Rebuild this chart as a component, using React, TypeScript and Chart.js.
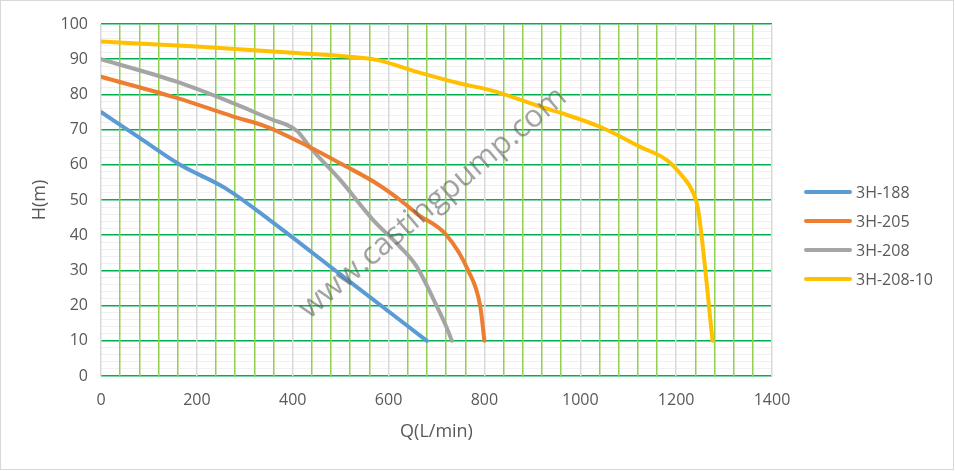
import React, { useEffect, useRef } from "react";
import { Chart, registerables } from "chart.js";

Chart.register(...registerables);

// ---- data ----
const seriesNames = ["3H-188", "3H-205", "3H-208", "3H-208-10"];

const q188 = [0, 80, 165, 260, 350, 500, 680];
const h188 = [75, 67.7, 60, 53.3, 44.5, 28.8, 10];

const q205 = [0, 158, 276, 346, 436, 505, 575, 624, 660, 721, 766, 791, 800];
const h205 = [85, 79, 73.7, 70.8, 65, 60, 54.7, 50, 46, 40, 30, 20, 10];

const q208 = [0, 158, 276, 360, 385, 410, 436, 499, 568, 624, 659, 700, 722, 732];
const h208 = [90, 83.6, 77.5, 72.7, 71.5, 69.5, 65, 55.7, 44.3, 36.7, 31, 20, 13.5, 10];

const q20810 = [0, 200, 415, 500, 575, 659, 749, 812, 929, 958, 1041, 1125, 1180, 1208, 1236, 1246, 1276];
const h20810 = [95, 93.6, 91.7, 90.9, 89.8, 86.4, 83.1, 81.2, 76, 74.8, 70.8, 65.1, 61.4, 57.6, 51.9, 47.2, 10];

const xTickStep = 40;
const xLabelStep = 200;
const yTickStep = 2;
const yLabelStep = 10;
const xTitle = "Q(L/min)";
const yTitle = "H(m)";
const watermark = "www.castingpump.com";

const colors = ["#5B9BD5", "#ED7D31", "#A5A5A5", "#FFC000"];

const toPts = (xs: number[], ys: number[]) => xs.map((x, i) => ({ x, y: ys[i] }));
const seriesData = [toPts(q188, h188), toPts(q205, h205), toPts(q208, h208), toPts(q20810, h20810)];

const FONT = "'Open Sans', 'Liberation Sans', sans-serif";
const TEXT = "#595959";

const extrasPlugin = {
  id: "extras",
  afterDraw(chart: any) {
    const ctx = chart.ctx as CanvasRenderingContext2D;
    const area = chart.chartArea;
    // watermark
    ctx.save();
    ctx.font = `30px ${FONT}`;
    const w = ctx.measureText(watermark).width;
    const size = (30 * 340) / w;
    ctx.font = `${size}px ${FONT}`;
    ctx.translate(433, 203);
    ctx.rotate((-40.3 * Math.PI) / 180);
    ctx.fillStyle = "rgba(90,90,90,0.55)";
    ctx.textAlign = "center";
    ctx.textBaseline = "middle";
    ctx.fillText(watermark, 0, 0);
    ctx.restore();

    // legend
    ctx.save();
    const lx0 = area.right + 34;
    const lx1 = area.right + 78;
    const ys = [192, 221, 250, 279];
    ctx.font = `16px ${FONT}`;
    ctx.textBaseline = "middle";
    ctx.textAlign = "left";
    seriesNames.forEach((name, i) => {
      ctx.strokeStyle = colors[i];
      ctx.lineWidth = 4;
      ctx.lineCap = "round";
      ctx.beginPath();
      ctx.moveTo(lx0, ys[i]);
      ctx.lineTo(lx1, ys[i]);
      ctx.stroke();
      ctx.fillStyle = TEXT;
      ctx.fillText(name, area.right + 84, ys[i] + 1);
    });
    ctx.restore();

    // outer border
    ctx.save();
    ctx.strokeStyle = "#D9D9D9";
    ctx.lineWidth = 1;
    ctx.strokeRect(0.5, 0.5, chart.width - 2, chart.height - 2);
    ctx.restore();
  },
};

export default function App() {
  const ref = useRef<HTMLCanvasElement | null>(null);

  useEffect(() => {
    document.body.style.margin = "0";
    const canvas = ref.current;
    if (!canvas) return;
    const chart = new Chart(canvas, {
      type: "scatter",
      data: {
        datasets: seriesData.map((d, i) => ({
          label: seriesNames[i],
          data: d,
          showLine: true,
          borderColor: colors[i],
          backgroundColor: colors[i],
          borderWidth: 4,
          pointRadius: 0,
          pointHoverRadius: 0,
          cubicInterpolationMode: "monotone" as const,
          borderCapStyle: "round" as const,
          borderJoinStyle: "round" as const,
          fill: false,
        })),
      },
      options: {
        animation: false,
        responsive: true,
        maintainAspectRatio: false,
        layout: { padding: { left: 0, top: 24, right: 183, bottom: 0 } },
        plugins: {
          legend: { display: false },
          tooltip: { enabled: false },
        },
        scales: {
          x: {
            type: "linear",
            min: 0,
            max: 1400,
            afterFit: (s: any) => {
              s.height = 95;
            },
            border: { display: false },
            grid: {
              z: -1,
              drawTicks: false,
              color: (c: any) => (c.tick && c.tick.value % xLabelStep === 0 ? "#D9D9D9" : "#92D050"),
              lineWidth: 1.5,
            },
            ticks: {
              stepSize: xTickStep,
              autoSkip: false,
              maxRotation: 0,
              padding: 15,
              color: TEXT,
              font: { family: FONT, size: 16 },
              callback: (v: any) => (Number(v) % xLabelStep === 0 ? String(v) : ""),
            },
            title: {
              display: true,
              text: xTitle,
              color: TEXT,
              font: { family: FONT, size: 18 },
              padding: { top: 0, bottom: 28 },
            },
          },
          y: {
            type: "linear",
            min: 0,
            max: 100,
            afterFit: (s: any) => {
              s.width = 101;
            },
            border: { display: false },
            grid: {
              z: -2,
              drawTicks: false,
              color: (c: any) => (c.tick && c.tick.value % yLabelStep === 0 ? "#00B050" : "#F0F0F0"),
              lineWidth: (c: any) => (c.tick && c.tick.value % yLabelStep === 0 ? 1.5 : 1),
            },
            ticks: {
              stepSize: yTickStep,
              autoSkip: false,
              padding: 13,
              color: TEXT,
              font: { family: FONT, size: 16 },
              callback: (v: any) => (Number(v) % yLabelStep === 0 ? String(v) : ""),
            },
            title: {
              display: true,
              text: yTitle,
              color: TEXT,
              font: { family: FONT, size: 18 },
              padding: { top: 29, bottom: 0 },
            },
          },
        },
      },
      plugins: [extrasPlugin],
    });
    return () => chart.destroy();
  }, []);

  return (
    <div style={{ position: "relative", width: 955, height: 471, background: "#fff" }}>
      <canvas ref={ref} />
    </div>
  );
}
